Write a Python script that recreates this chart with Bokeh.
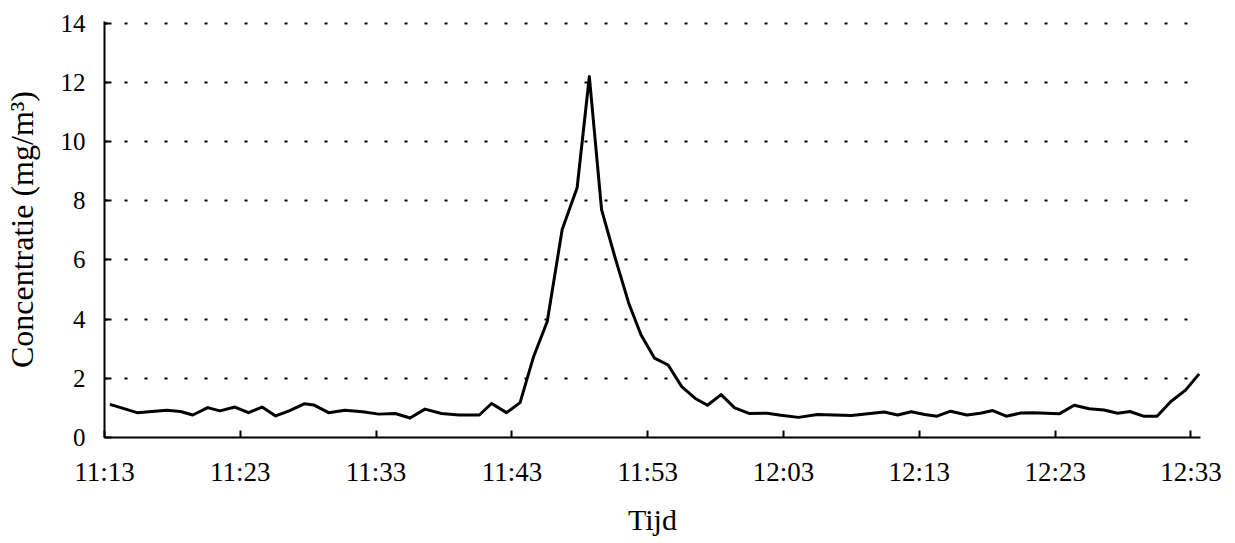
from bokeh.plotting import figure
from bokeh.models import Range1d, FixedTicker
from bokeh.embed import file_html
from bokeh.resources import INLINE

# minutes after 11:13
minutes = [0.4, 2.4, 4.6, 5.6, 6.5, 7.6, 8.5, 9.6, 10.6, 11.6, 12.6, 13.6, 14.7, 15.4,
           16.5, 17.7, 19.0, 20.2, 21.4, 22.5, 23.6, 24.8, 26.1, 27.6, 28.5, 29.6, 30.6,
           31.6, 32.6, 33.7, 34.8, 35.7, 36.6, 37.6, 38.6, 39.5, 40.5, 41.5, 42.5, 43.5,
           44.4, 45.4, 46.4, 47.5, 48.8, 49.8, 51.1, 52.5, 53.7, 55.0, 56.2, 57.4, 58.4,
           59.4, 60.4, 61.3, 62.3, 63.5, 64.5, 65.4, 66.4, 67.5, 68.4, 70.3, 71.4, 72.5,
           73.6, 74.6, 75.5, 76.5, 77.5, 78.5, 79.6, 80.6]
concentration = [1.12, 0.84, 0.92, 0.88, 0.76, 1.01, 0.90, 1.03, 0.84, 1.03, 0.73, 0.90,
                 1.14, 1.10, 0.84, 0.92, 0.87, 0.79, 0.81, 0.66, 0.96, 0.81, 0.76, 0.76,
                 1.15, 0.84, 1.18, 2.74, 3.92, 7.03, 8.44, 12.2, 7.7, 6.07, 4.54, 3.47,
                 2.68, 2.45, 1.72, 1.32, 1.09, 1.45, 1.0, 0.81, 0.82, 0.75, 0.68, 0.78,
                 0.76, 0.74, 0.80, 0.86, 0.76, 0.87, 0.78, 0.72, 0.89, 0.76, 0.82, 0.91,
                 0.72, 0.83, 0.84, 0.80, 1.09, 0.97, 0.93, 0.82, 0.88, 0.72, 0.72, 1.21,
                 1.60, 2.15]

x_tick_minutes = [0, 10, 20, 30, 40, 50, 60, 70, 80]
x_tick_labels = ["11:13", "11:23", "11:33", "11:43", "11:53", "12:03", "12:13", "12:23", "12:33"]
y_ticks = [0, 2, 4, 6, 8, 10, 12, 14]

FONT = "Liberation Serif"

p = figure(frame_width=1096, frame_height=416,
           output_backend="svg", toolbar_location=None,
           x_range=Range1d(0, 80.7), y_range=Range1d(0, 14.06),
           min_border_left=96, min_border_right=24, min_border_top=21, min_border_bottom=93,
           background_fill_color="white", border_fill_color="white")
p.outline_line_color = None

p.line(minutes, concentration, line_width=3, line_color="black", line_join="round")

p.xgrid.visible = False
p.ygrid.ticker = FixedTicker(ticks=y_ticks)
p.ygrid.grid_line_color = "black"
p.ygrid.grid_line_width = 2
p.ygrid.grid_line_dash = "3 17"

xa = p.xaxis[0]
xa.ticker = FixedTicker(ticks=x_tick_minutes)
xa.major_label_overrides = {m: lab for m, lab in zip(x_tick_minutes, x_tick_labels)}
xa.axis_label = "Tijd"
xa.major_label_standoff = 19
xa.axis_label_standoff = 13

ya = p.yaxis[0]
ya.ticker = FixedTicker(ticks=y_ticks)
ya.axis_label = "Concentratie (mg/m\u00b3)"
ya.major_label_standoff = 19
ya.axis_label_standoff = 18

for ax in (xa, ya):
    ax.axis_line_color = "black"
    ax.axis_line_width = 2
    ax.major_tick_line_color = "black"
    ax.major_tick_line_width = 2
    ax.major_tick_in = 7
    ax.major_tick_out = 0
    ax.minor_tick_line_color = None
    ax.major_label_text_font = FONT
    ax.major_label_text_color = "black"
    ax.axis_label_text_font = FONT
    ax.axis_label_text_font_style = "normal"
    ax.axis_label_text_color = "black"

xa.major_label_text_font_size = "27px"
ya.major_label_text_font_size = "25px"
xa.axis_label_text_font_size = "30px"
ya.axis_label_text_font_size = "32px"

open("out.html", "w").write(file_html(p, INLINE))
